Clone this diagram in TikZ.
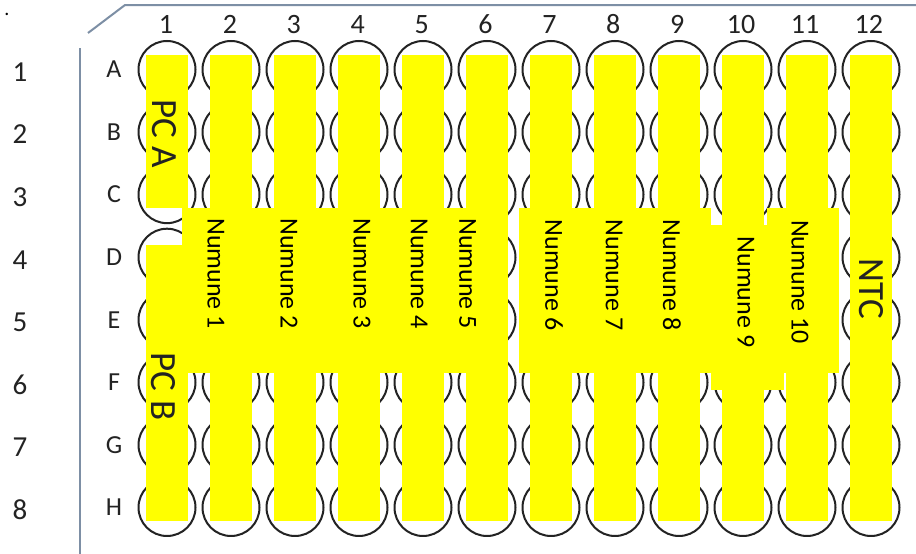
\documentclass[tikz,border=0pt]{standalone}
\usepackage{fontspec}
\setmainfont{Carlito}
\definecolor{plateblue}{RGB}{125,143,165}
\definecolor{inkgray}{RGB}{35,35,35}
\definecolor{pureyellow}{RGB}{255,255,0}
\begin{document}
\begin{tikzpicture}[x=1pt,y=-1pt,
  well/.style={circle,draw=inkgray,line width=2pt,minimum size=57pt,inner sep=0pt},
  platebar/.style={fill=pureyellow,draw=none},
  collbl/.style={inner sep=0pt,text=inkgray,font=\fontsize{28}{28}\selectfont},
  rowlbl/.style={inner sep=0pt,text=inkgray,font=\fontsize{26}{26}\selectfont},
  outlbl/.style={inner sep=0pt,text=inkgray,font=\fontsize{29}{29}\selectfont},
  sample/.style={inner sep=0pt,rotate=-90,text=black,font=\fontsize{26}{26}\selectfont},
  biglbl/.style={inner sep=0pt,rotate=-90,text=inkgray,font=\fontsize{37}{37}\selectfont},
  plateline/.style={draw=plateblue,line width=2pt}]
\useasboundingbox (0,0) rectangle (916,554);
\fill[white] (0,0) rectangle (916,554);
% plate outline
\draw[plateline] (88,33) -- (125,5) -- (916,5);
\draw[plateline] (80,48) -- (80,554);
\node[inner sep=0pt,font=\fontsize{20}{20}\selectfont] (dot) at (7,14) {.};
% wells
\foreach \j in {1,...,12}{
  \foreach \i in {1,...,8}{
    \node[well] (w\i-\j) at ({167+64*(\j-1)},{69.5+62.57*(\i-1)}) {};
  }
}
% yellow columns
\fill[platebar] (146,55) rectangle (188,208);
\fill[platebar] (146,245) rectangle (188,521);
\foreach \j in {2,...,12}{
  \fill[platebar] ({167+64*(\j-1)-21},55) rectangle ({167+64*(\j-1)+21},521);
}
% sample overlays
\fill[platebar] (182,208) rectangle (508,373);
\fill[platebar] (519,208) rectangle (711,373);
\fill[platebar] (767,208) rectangle (839,373);
\fill[platebar] (711,225) rectangle (784,390);
% sample texts
\node[sample] (n1) at (216,273.5) {Numune 1};
\node[sample] (n2) at (289,273.5) {Numune 2};
\node[sample] (n3) at (362,273.5) {Numune 3};
\node[sample] (n4) at (419,273.5) {Numune 4};
\node[sample] (n5) at (467.5,273.5) {Numune 5};
\node[sample] (n6) at (554,275) {Numune 6};
\node[sample] (n7) at (614,275) {Numune 7};
\node[sample] (n8) at (672,275) {Numune 8};
\node[sample] (n9) at (746,292) {Numune 9};
\node[sample] (n10) at (800,282) {Numune 10};
\node[biglbl] (pca) at (164,133.5) {PC A};
\node[biglbl] (pcb) at (163,386.5) {PC B};
\node[biglbl] (ntc) at (871,289) {NTC};
% column numbers
\foreach \j in {1,...,12}{
  \node[collbl] (c\j) at ({166+63.9*(\j-1)},24.5) {\j};
}
% row letters and numbers
\foreach \l [count=\i] in {A,B,C,D,E,F,G,H}{
  \node[rowlbl] (r\l) at (114,{69.5+62.57*(\i-1)}) {\l};
  \node[outlbl] (o\i) at (20,{72+62.57*(\i-1)}) {\i};
}
\end{tikzpicture}
\end{document}
